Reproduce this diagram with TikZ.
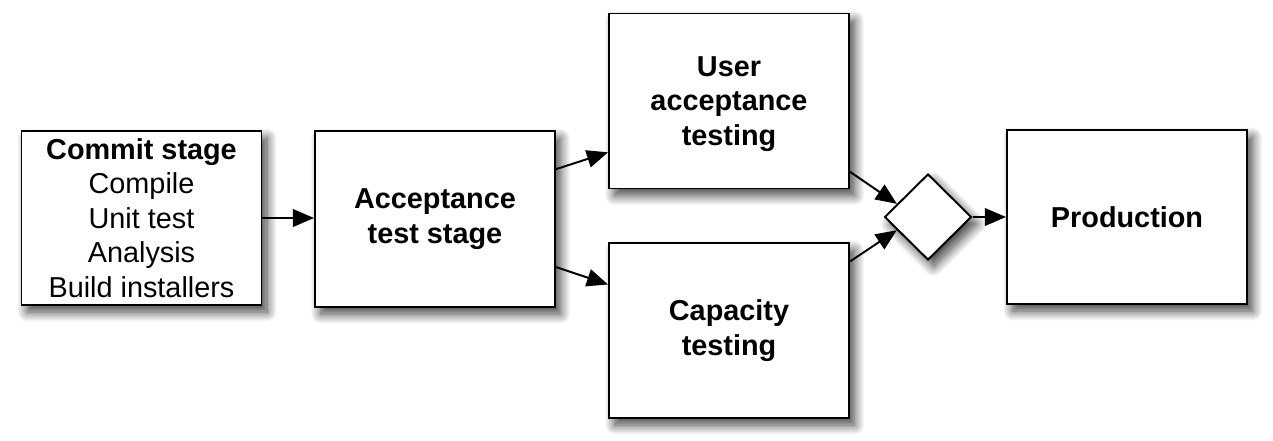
\documentclass[tikz,border=0pt]{standalone}
\usepackage{fontspec}
\setmainfont{Liberation Sans}
\usetikzlibrary{shapes.geometric,arrows.meta,shadows.blur,calc}
\begin{document}
\begin{tikzpicture}[x=0.025cm,y=-0.025cm,
  softshadow/.style={blur shadow={shadow xshift=4pt,shadow yshift=-5pt,shadow blur radius=7pt,shadow blur steps=14,shadow opacity=75}},
  stagebox/.style={draw=black,line width=1.4pt,fill=white,rectangle,
    minimum width=240*0.025cm,minimum height=175*0.025cm,align=center,
    font=\fontsize{20.5}{24.5}\selectfont,inner sep=0pt,softshadow},
  gate/.style={draw=black,line width=1.4pt,fill=white,diamond,
    minimum width=87*0.025cm,minimum height=86*0.025cm,inner sep=0pt,softshadow},
  flow/.style={line width=1.4pt,-{Triangle[length=15pt,width=12.5pt]}}]
\useasboundingbox (0,0) rectangle (1273,440);
\node[stagebox,minimum height=174*0.025cm] (commit) at (141.5,218) {\textbf{Commit stage}\\Compile\\Unit test\\Analysis\\Build installers};
\node[stagebox,minimum height=176*0.025cm] (acc) at (435,219) {\textbf{Acceptance}\\\textbf{test stage}};
\node[stagebox] (uat) at (729,101) {};
\node[align=center,font=\fontsize{20.5}{24.5}\selectfont,inner sep=0pt] (uattext) at (729,104) {\textbf{User}\\\textbf{acceptance}\\\textbf{testing}};
\node[stagebox] (cap) at (729,330.5) {\textbf{Capacity}\\\textbf{testing}};
\node[gate] (gate) at (928,217) {};
\node[stagebox,minimum height=174*0.025cm] (prod) at (1127,217) {\textbf{Production}};
\draw[flow] (commit.east) -- (commit.east -| acc.west);
\draw[flow] ($(acc.north east)!0.22!(acc.south east)$) -- ($(uat.north west)!0.79!(uat.south west)$);
\draw[flow] ($(acc.north east)!0.77!(acc.south east)$) -- ($(cap.north west)!0.24!(cap.south west)$);
\draw[flow] ($(uat.north east)!0.9!(uat.south east)$) -- ($(gate.west)!0.3!(gate.north)$);
\draw[flow] ($(cap.north east)!0.11!(cap.south east)$) -- ($(gate.west)!0.3!(gate.south)$);
\draw[flow] (gate.east) -- (gate.east -| prod.west);
\end{tikzpicture}
\end{document}
